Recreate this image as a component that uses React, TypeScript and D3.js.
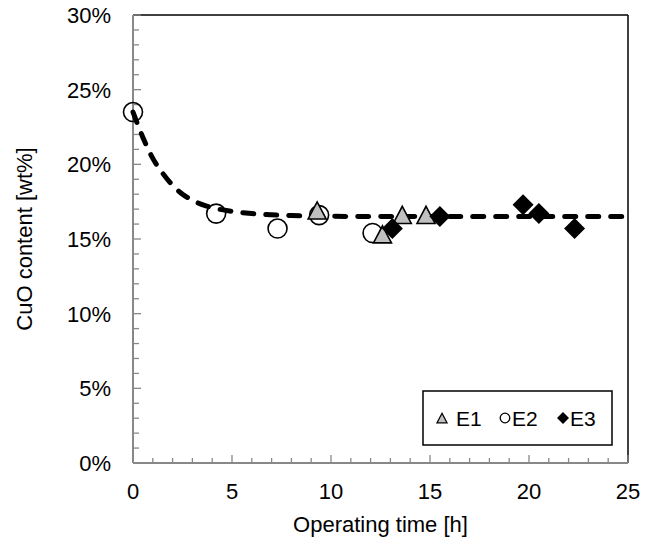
import React from 'react';
import * as d3 from 'd3';

const width = 645;
const height = 544;
const margin = { top: 15, right: 17, bottom: 81, left: 133 };

// operating time [h] / CuO content [fraction]
const e1Time = [9.3, 12.6, 13.6, 14.8];
const e1Cuo = [0.168, 0.152, 0.165, 0.165];
const e2Time = [0, 4.2, 7.3, 9.4, 12.1];
const e2Cuo = [0.235, 0.167, 0.157, 0.166, 0.154];
const e3Time = [13.1, 15.5, 19.7, 20.5, 22.3];
const e3Cuo = [0.157, 0.165, 0.173, 0.167, 0.157];

// dashed fit curve
const fitTime = [0, 0.5, 1, 1.5, 2, 2.5, 3, 3.5, 4, 5, 6, 8, 10, 15, 25];
const fitCuo = [0.235, 0.218, 0.204, 0.194, 0.186, 0.18, 0.176, 0.173, 0.171, 0.1685, 0.167, 0.1657, 0.1652, 0.165, 0.165];

const xTicks = [0, 5, 10, 15, 20, 25];
const yTicks = [0, 0.05, 0.1, 0.15, 0.2, 0.25, 0.3];

const font = "'Liberation Sans', Arial, sans-serif";

const x = d3.scaleLinear().domain([0, 25]).range([margin.left, width - margin.right]);
const y = d3.scaleLinear().domain([0, 0.3]).range([height - margin.bottom, margin.top]);

const tri = (cx: number, cy: number, s: number) => {
  const h = s * 0.95;
  return `M${cx},${cy - h * 0.6}L${cx + s / 2},${cy + h * 0.4}L${cx - s / 2},${cy + h * 0.4}Z`;
};
const dia = (cx: number, cy: number, r: number) =>
  `M${cx},${cy - r}L${cx + r},${cy}L${cx},${cy + r}L${cx - r},${cy}Z`;

export default function App() {
  const x0 = x(0), x1 = x(25), y0 = y(0), y1 = y(0.3);
  const line = d3.line<number>()
    .x((d, i) => x(fitTime[i]))
    .y(d => y(d))
    .curve(d3.curveMonotoneX);

  const minorX = d3.range(0, 26, 1);
  const minorY = d3.range(0, 0.301, 0.01);

  return (
    <svg width={width} height={height} style={{ position: 'absolute', left: 0, top: 0, background: '#fff' }}>
      {/* frame */}
      <line x1={x0} y1={y1} x2={x1} y2={y1} stroke="#000" strokeWidth={1.5} />
      <line x1={x1} y1={y1} x2={x1} y2={y0} stroke="#000" strokeWidth={1.5} />

      {/* minor ticks */}
      {minorX.map(t => (
        <line key={'mx' + t} x1={x(t)} x2={x(t)} y1={y0} y2={y0 - (t % 5 === 0 ? 8 : 5)} stroke="#888" strokeWidth={1.3} />
      ))}
      {minorY.map((t, i) => (
        <line key={'my' + i} x1={x0} x2={x0 + (i % 5 === 0 ? 8 : 6)} y1={y(t)} y2={y(t)} stroke="#888" strokeWidth={1.3} />
      ))}
      <line x1={x0} y1={y0} x2={x1} y2={y0} stroke="#888" strokeWidth={2} />
      <line x1={x0} y1={y0} x2={x0} y2={y1} stroke="#888" strokeWidth={2} />

      {/* tick labels */}
      {xTicks.map(t => (
        <text key={'xt' + t} x={x(t)} y={y0 + 36} textAnchor="middle" fontFamily={font} fontSize={22} fill="#000">{t}</text>
      ))}
      {yTicks.map(t => (
        <text key={'yt' + t} x={x0 - 22} y={y(t) + 8} textAnchor="end" fontFamily={font} fontSize={22} fill="#000">{d3.format('.0%')(t)}</text>
      ))}
      <text x={(x0 + x1) / 2} y={532} textAnchor="middle" fontFamily={font} fontSize={22} fill="#000">Operating time [h]</text>
      <text transform={`translate(32,${(y0 + y1) / 2}) rotate(-90)`} textAnchor="middle" fontFamily={font} fontSize={22} fill="#000">CuO content [wt%]</text>

      {/* fit line */}
      <path d={line(fitCuo) || ''} fill="none" stroke="#000" strokeWidth={5} strokeDasharray="11 12" strokeLinecap="round" />

      {/* E2 circles */}
      {e2Time.map((t, i) => (
        <circle key={'e2' + i} cx={x(t)} cy={y(e2Cuo[i])} r={9.5} fill="none" stroke="#000" strokeWidth={1.6} />
      ))}
      {/* E1 triangles */}
      {e1Time.map((t, i) => (
        <path key={'e1' + i} d={tri(x(t), y(e1Cuo[i]), 18)} fill="#c0c0c0" stroke="#000" strokeWidth={1.6} />
      ))}
      {/* E3 diamonds */}
      {e3Time.map((t, i) => (
        <path key={'e3' + i} d={dia(x(t), y(e3Cuo[i]), 10.5)} fill="#000" />
      ))}

      {/* legend */}
      <rect x={423} y={391} width={189} height={54} fill="#fff" stroke="#000" strokeWidth={1.5} />
      <path d={tri(442, 419, 10)} fill="#c0c0c0" stroke="#000" strokeWidth={1.3} />
      <text x={456} y={426} fontFamily={font} fontSize={21} fill="#000">E1</text>
      <circle cx={505} cy={418} r={4.8} fill="none" stroke="#000" strokeWidth={1.3} />
      <text x={512} y={426} fontFamily={font} fontSize={21} fill="#000">E2</text>
      <path d={dia(563, 418, 6)} fill="#000" />
      <text x={570} y={426} fontFamily={font} fontSize={21} fill="#000">E3</text>
    </svg>
  );
}
